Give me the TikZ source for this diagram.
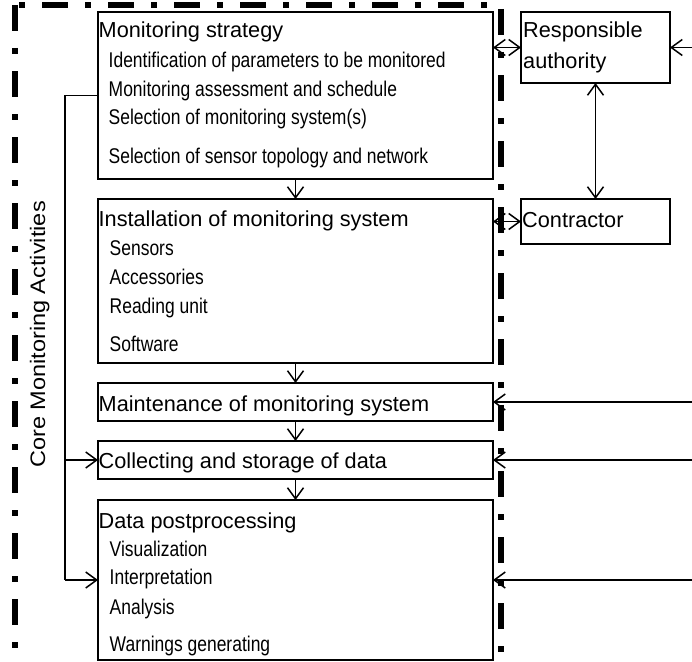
\documentclass[tikz,border=0pt]{standalone}
\usepackage{fontspec}
\setmainfont{Liberation Sans}
\newfontfamily\corefont[FakeStretch=1.12]{Liberation Sans}
\newfontfamily\narrowf[FakeStretch=0.82]{Liberation Sans}
\usetikzlibrary{arrows.meta,calc}
\tikzset{
  box/.style={draw, line width=1.5pt, inner sep=0pt, outer sep=0pt, anchor=north west},
  ttl/.style={anchor=base west, inner sep=0pt, font=\fontsize{21.7}{24}\selectfont},
  sub/.style={anchor=base west, inner sep=0pt, font=\narrowf\fontsize{21.3}{24}\selectfont},
  conn/.style={line width=1.5pt},
  frm/.style={line width=6pt, dash pattern=on 26pt off 17pt on 6pt off 17pt},
  >={Straight Barb[length=11pt,width=16pt]}
}
\begin{document}
\begin{tikzpicture}[x=1pt,y=-1pt]
\useasboundingbox (0,0) rectangle (692,661);
\clip (0,0) rectangle (692,661);
\fill[white] (0,0) rectangle (692,661);
% frame
\draw[frm, dash phase=0pt] (14.5,5) -- (14.5,690);
\draw[frm, dash phase=38.5pt] (14.5,5.5) -- (500.5,5.5);
\draw[frm, dash phase=62pt] (500.5,5) -- (500.5,690);
% boxes
\node[box, minimum width=395pt, minimum height=167pt] (b1) at (98,12) {};
\node[box, minimum width=395pt, minimum height=164pt] (b2) at (98,199) {};
\node[box, minimum width=395pt, minimum height=38pt] (b3) at (98,383) {};
\node[box, minimum width=395pt, minimum height=38pt] (b4) at (98,441) {};
\node[box, minimum width=395pt, minimum height=160pt] (b5) at (98,500) {};
\node[box, minimum width=149pt, minimum height=71pt] (ra) at (521,12) {};
\node[box, minimum width=149pt, minimum height=45pt] (co) at (521,199) {};
% texts
\node[ttl] (t1) at (98.5,37.5) {Monitoring strategy};
\node[sub] (s11) at (108.5,67) {Identification of parameters to be monitored};
\node[sub] (s12) at (108.5,96.5) {Monitoring assessment and schedule};
\node[sub] (s13) at (108.5,124.5) {Selection of monitoring system(s)};
\node[sub] (s14) at (108.5,163) {Selection of sensor topology and network};
\node[ttl] (t2) at (98.5,226) {Installation of monitoring system};
\node[sub] (s21) at (109.5,255.5) {Sensors};
\node[sub] (s22) at (109.5,284.5) {Accessories};
\node[sub] (s23) at (109.5,313) {Reading unit};
\node[sub] (s24) at (109.5,351) {Software};
\node[ttl] (t3) at (98.5,411.5) {Maintenance of monitoring system};
\node[ttl] (t4) at (98.5,468.5) {Collecting and storage of data};
\node[ttl] (t5) at (98.5,528.5) {Data postprocessing};
\node[sub] (s51) at (109.5,556.5) {Visualization};
\node[sub] (s52) at (109.5,584.5) {Interpretation};
\node[sub] (s53) at (109.5,614) {Analysis};
\node[sub] (s54) at (109.5,651) {Warnings generating};
\node[ttl] (tr1) at (523,37.5) {Responsible};
\node[ttl] (tr2) at (523,68.5) {authority};
\node[ttl] (tc) at (522,227.5) {Contractor};
\node[anchor=base, inner sep=0pt, rotate=90, font=\corefont\fontsize{21}{24}\selectfont] (core) at (45,334.5) {Core Monitoring Activities};
% connectors
\coordinate (lt) at (65,95.5);
\coordinate (lb) at (65,580);
\coordinate (rra) at (700,47.5);
\coordinate (r3) at (700,402);
\coordinate (r4) at (700,460);
\coordinate (r5) at (700,580);
\draw[conn,<->] (b1.east |- ra.west) -- (ra.west);
\draw[conn,->] (rra) -- (ra.east);
\draw[conn,<->] (ra.south) -- (co.north);
\draw[conn,<->] (b2.east |- co.west) -- (co.west);
\draw[conn,->] (b1.south) -- (b2.north);
\draw[conn,->] (b2.south) -- (b3.north);
\draw[conn,->] (b3.south) -- (b4.north);
\draw[conn,->] (b4.south) -- (b5.north);
\draw[conn,->] (r3) -- (b3.east);
\draw[conn,->] (r4) -- (b4.east);
\draw[conn,->] (r5) -- (b5.east);
\draw[conn] (b1.west) -- (lt) -- (lb);
\draw[conn,->] (lt |- b4.west) -- (b4.west);
\draw[conn,->] (lb) -- (b5.west);
\end{tikzpicture}
\end{document}
